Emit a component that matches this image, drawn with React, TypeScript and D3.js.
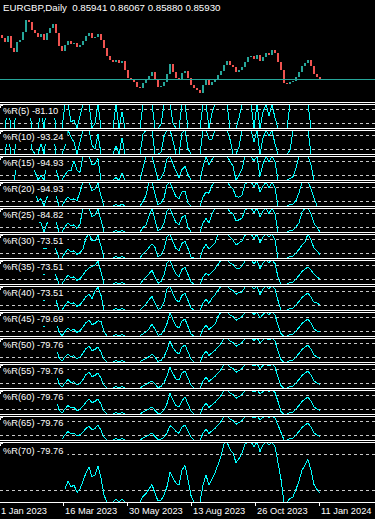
import React, { useEffect, useRef } from "react";
import * as d3 from "d3";

// quote header
const symbolTitle = "EURGBP,Daily";
const lastQuote = ["0.85941", "0.86067", "0.85880", "0.85930"];

// daily closes, one value every 3 bars (1 Jan 2023 -> 11 Jan 2024)
const closes = [
  0.885, 0.8832, 0.8809, 0.8844, 0.8774, 0.875, 0.8809, 0.882, 0.8867, 0.8937,
  0.8925, 0.8879, 0.8861, 0.8838, 0.8856, 0.882, 0.8861, 0.889, 0.8914, 0.8861,
  0.8785, 0.8756, 0.8791, 0.8815, 0.8797, 0.8803, 0.878, 0.8791, 0.8815, 0.8844,
  0.8861, 0.8832, 0.8838, 0.8856, 0.882, 0.8774, 0.8727, 0.8704, 0.8692, 0.8704,
  0.8686, 0.8698, 0.8646, 0.8599, 0.8587, 0.8576, 0.8546, 0.8541, 0.857, 0.8587,
  0.861, 0.8634, 0.8587, 0.8546, 0.8552, 0.8576, 0.8622, 0.868, 0.8634, 0.8599,
  0.8587, 0.8628, 0.864, 0.8599, 0.8558, 0.8541, 0.8529, 0.8511, 0.8558, 0.8587,
  0.8558, 0.8576, 0.8593, 0.8616, 0.864, 0.8675, 0.8698, 0.8675, 0.8663, 0.8634,
  0.8646, 0.8663, 0.8692, 0.8721, 0.8727, 0.871, 0.8733, 0.8698, 0.8721, 0.8745,
  0.8733, 0.8762, 0.8745, 0.8692, 0.8646, 0.857, 0.8564, 0.8576, 0.8581, 0.8605,
  0.8634, 0.8669, 0.8686, 0.8704, 0.8669, 0.8622, 0.8605, 0.8593,
];
const BARS_PER_POINT = 3;

// Williams %R sub windows
const periods = [5, 10, 15, 20, 25, 30, 35, 40, 45, 50, 55, 60, 65, 70];
const lastValues = [
  "-81.10", "-93.24", "-94.93", "-94.93", "-84.82", "-73.51", "-73.51",
  "-73.51", "-79.69", "-79.76", "-79.76", "-79.76", "-79.76", "-79.76",
];
const levels = [-20, -80];

// time axis
const tickLabels = ["1 Jan 2023", "16 Mar 2023", "30 May 2023", "13 Aug 2023", "26 Oct 2023", "11 Jan 2024"];
const tickBars = [0, 64, 128, 192, 256, 320];

const W = 375;
const H = 519;
const FONT = "'Liberation Sans', Arial, sans-serif";
const UP = "#26a69a";
const DOWN = "#ef5350";

const opens = closes.map((c, i) => (i === 0 ? c : closes[i - 1]));
const highs = closes.map((c, i) => Math.max(c, opens[i]));
const lows = closes.map((c, i) => Math.min(c, opens[i]));

// %R derived from the price series above
function williams(n: number) {
  const p = Math.max(2, Math.round(n / BARS_PER_POINT));
  return closes.map((c, i) => {
    if (i < p - 1) return null;
    const hh = d3.max(highs.slice(i - p + 1, i + 1)) as number;
    const ll = d3.min(lows.slice(i - p + 1, i + 1)) as number;
    return hh === ll ? -50 : ((hh - c) / (hh - ll)) * -100;
  });
}

const App = () => {
  const svgRef = useRef<SVGSVGElement>(null);

  useEffect(() => {
    const svg = d3.select(svgRef.current);
    svg.selectAll("*").remove();

    svg.append("rect").attr("width", W).attr("height", H).attr("fill", "#000");

    const x = d3.scaleLinear().domain([0, 321]).range([-1, 320]);
    const px = (i: number) => x(i * BARS_PER_POINT);
    const y = d3.scaleLinear().domain([0.8465, 0.9054]).range([101, 0]);

    const defs = svg.append("defs");
    defs.append("clipPath").attr("id", "clip-main")
      .append("rect").attr("x", 0).attr("y", 0).attr("width", W).attr("height", 101);

    // price candles
    const main = svg.append("g").attr("clip-path", "url(#clip-main)");
    main.selectAll("rect.candle")
      .data(closes)
      .enter().append("rect")
      .attr("class", "candle")
      .attr("x", (_, i) => px(i) - 1)
      .attr("width", 2)
      .attr("y", (c, i) => y(Math.max(c, opens[i])))
      .attr("height", (c, i) => Math.max(1, Math.abs(y(c) - y(opens[i]))))
      .attr("fill", (c, i) => (c >= opens[i] ? UP : DOWN))
      .attr("shape-rendering", "crispEdges");

    // bid line
    const bid = Math.round(y(closes[closes.length - 1])) + 0.5;
    main.append("line")
      .attr("x1", 0).attr("x2", W).attr("y1", bid).attr("y2", bid)
      .attr("stroke", UP).attr("stroke-width", 1);

    svg.append("text")
      .attr("x", 3).attr("y", 11)
      .attr("fill", "#fff")
      .attr("font-family", FONT).attr("font-size", 9.7)
      .attr("xml:space", "preserve")
      .text(`${symbolTitle}  ${lastQuote.join(" ")}`);

    // separators
    periods.forEach((_, k) => {
      [102 + 26 * k, 104 + 26 * k].forEach((ly) => {
        svg.append("line")
          .attr("x1", 0).attr("x2", W).attr("y1", ly + 0.5).attr("y2", ly + 0.5)
          .attr("stroke", "#fff");
      });
    });

    // %R panels
    periods.forEach((n, k) => {
      const top = 104 + 26 * k;
      const bottom = k === periods.length - 1 ? 502 : top + 24;
      const ry = d3.scaleLinear().domain([0, -100]).range([top, bottom]);

      defs.append("clipPath").attr("id", `clip-${k}`)
        .append("rect").attr("x", 0).attr("y", top + 1).attr("width", W).attr("height", bottom - top - 1);

      const g = svg.append("g").attr("clip-path", `url(#clip-${k})`);

      levels.forEach((lv) => {
        const ly = Math.round(ry(lv)) + 0.5;
        g.append("line")
          .attr("x1", 0).attr("x2", W).attr("y1", ly).attr("y2", ly)
          .attr("stroke", "#c8c8c8").attr("stroke-dasharray", "3,3");
      });

      const values = williams(n);
      const line = d3.line<number | null>()
        .defined((d) => d !== null)
        .x((_, i) => px(i))
        .y((d) => ry(d as number));
      g.append("path")
        .datum(values)
        .attr("d", line)
        .attr("fill", "none")
        .attr("stroke", "#00ffff")
        .attr("stroke-width", 1)
        .attr("shape-rendering", "crispEdges");

      const last = k === periods.length - 1;
      const label = svg.append("g");
      const box = label.append("rect").attr("fill", "#000");
      const txt = label.append("text")
        .attr("x", 3).attr("y", top + (last ? 12 : 10))
        .attr("fill", "#fff")
        .attr("font-family", FONT).attr("font-size", 9.3)
        .text(`%R(${n}) ${lastValues[k]}`);
      const bb = (txt.node() as SVGTextElement).getBBox();
      box.attr("x", 0).attr("y", top + 1)
        .attr("width", bb.x + bb.width + 4)
        .attr("height", bb.y + bb.height - top + 1);
      label.append("path")
        .attr("d", `M0.5,${top + 4}V${top + 1.5}H3`)
        .attr("stroke", "#fff").attr("fill", "none");
    });

    // time axis
    svg.append("line")
      .attr("x1", 0).attr("x2", W).attr("y1", 502.5).attr("y2", 502.5)
      .attr("stroke", "#fff");
    tickBars.forEach((b, i) => {
      const tx = Math.round(x(b)) + 0.5;
      svg.append("line")
        .attr("x1", tx).attr("x2", tx).attr("y1", 502).attr("y2", 506)
        .attr("stroke", "#fff");
      svg.append("text")
        .attr("x", tx + 1.5).attr("y", 514)
        .attr("fill", "#fff")
        .attr("font-family", FONT).attr("font-size", 9.3)
        .text(tickLabels[i]);
    });
  }, []);

  return (
    <svg
      ref={svgRef}
      width={W}
      height={H}
      style={{ position: "absolute", left: 0, top: 0, display: "block" }}
    />
  );
};

export default App;
